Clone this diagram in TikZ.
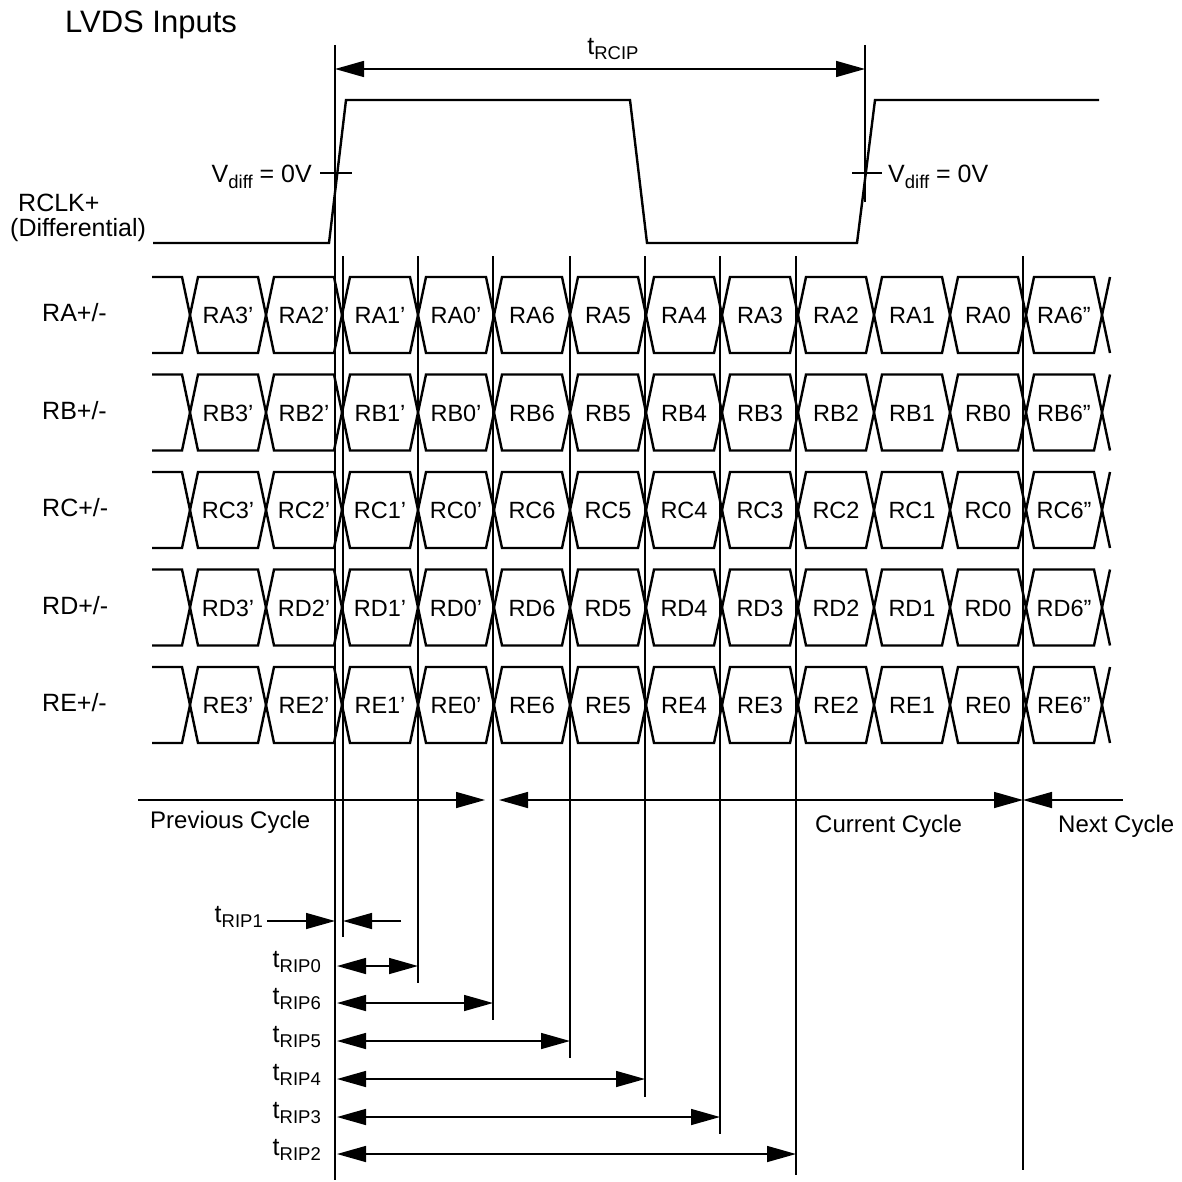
\documentclass[tikz,border=0pt]{standalone}
\usepackage{fontspec}
\setmainfont{Liberation Sans}
\usetikzlibrary{arrows.meta}
\newcommand\sublab[2]{#1\raisebox{-5.5pt}{\fontsize{18.5}{19}\selectfont #2}}
\begin{document}
\begin{tikzpicture}[x=1pt,y=-1pt,
  sig/.style={line width=2.4pt, line join=miter},
  mainline/.style={line width=2.7pt},
  guide/.style={line width=1.5pt},
  dim/.style={line width=1.5pt},
  tri/.tip={Triangle[length=29pt,width=16pt]},
  lab/.style={font=\fontsize{25}{30}\selectfont, inner sep=0pt},
  tlab/.style={font=\fontsize{25}{30}\selectfont, inner sep=0pt},
  cell/.style={font=\fontsize{23.5}{28}\selectfont, inner sep=0pt, anchor=base},
  cyc/.style={font=\fontsize{24}{28}\selectfont, inner sep=0pt}]
\useasboundingbox (0,0) rectangle (1182,1182);
% title
\node[font=\fontsize{31}{36}\selectfont, inner sep=0pt, anchor=west] (title) at (65,25) {LVDS Inputs};
% main reference line and second clock edge line
\coordinate (mtop) at (335,45);
\coordinate (mbot) at (335,1180);
\draw[mainline] (mtop) -- (mbot);
\coordinate (ntop) at (865,45);
\coordinate (nbot) at (865,202);
\draw[guide] (ntop) -- (nbot);
% tRCIP
\coordinate (rcipL) at (mtop|-0,69);
\coordinate (rcipR) at (ntop|-0,69);
\draw[dim,tri-tri] (rcipL) -- (rcipR);
\node[tlab] (trcip) at (613,49) {\sublab{t}{RCIP}};
% clock
\draw[sig] (153,243) -- (329,243) -- (346,100) -- (630,100) -- (647,243) -- (857,243) -- (875,100) -- (1099,100);
\coordinate (vt1a) at (320,173); \coordinate (vt1b) at (352,173);
\coordinate (vt2a) at (852,173); \coordinate (vt2b) at (882,173);
\draw[dim] (vt1a) -- (vt1b);
\draw[dim] (vt2a) -- (vt2b);
\node[lab, anchor=east] (vdiffL) at (312,177) {\sublab{V}{diff} = 0V};
\node[lab, anchor=west] (vdiffR) at (888,177) {\sublab{V}{diff} = 0V};
\node[lab, anchor=west] (rclk) at (18,203) {RCLK+};
\node[lab, anchor=west] (rdiff) at (10,230) {(Differential)};
% data rows
\foreach \L [count=\i from 0] in {A,B,C,D,E} {
  \pgfmathsetmacro\yc{315+97.5*\i}
  \node[lab, anchor=west] (row\L) at (42,\yc-2) {R\L+/-};
  \draw[sig] (152,\yc-38) foreach \k in {0,...,12} { -- ({182+76*\k},{\yc-38*(1-2*mod(\k,2))}) -- ({198+76*\k},{\yc+38*(1-2*mod(\k,2))}) };
  \draw[sig] (152,\yc+38) foreach \k in {0,...,12} { -- ({182+76*\k},{\yc+38*(1-2*mod(\k,2))}) -- ({198+76*\k},{\yc-38*(1-2*mod(\k,2))}) };
  \foreach \s [count=\j from 0] in {3',2',1',0',6,5,4,3,2,1,0,6''} {
    \node[cell] (c\L\j) at ({228+76*\j},\yc+8.5) {R\L\s};
  }
}
% guide lines
\foreach \gx/\gb in {343/937, 418/983, 493/1020, 570/1058, 645/1097, 720/1134, 796/1175, 1023/1170} {
  \coordinate (gt\gx) at (\gx,256);
  \coordinate (gb\gx) at (\gx,\gb);
  \draw[guide] (gt\gx) -- (gb\gx);
}
% cycle arrows
\coordinate (cycL) at (138,800);
\coordinate (cycR) at (1123,800);
\draw[dim,-tri] (cycL) -- (485,800);
\draw[dim,tri-tri] (499,800) -- (gt1023|-cycL);
\draw[dim,tri-] (gt1023|-cycL) -- (cycR);
\node[cyc, anchor=west] (prev) at (150,822) {Previous Cycle};
\node[cyc, anchor=west] (curr) at (815,826) {Current Cycle};
\node[cyc, anchor=west] (next) at (1058,826) {Next Cycle};
% tRIP measurements
\node[tlab, anchor=east] (trip1) at (263,917) {\sublab{t}{RIP1}};
\draw[dim,-tri] (trip1.east|-0,921) ++(4,0) -- (mtop|-0,921);
\draw[dim,-tri] (401,921) -- (gt343|-0,921);
\foreach \nm/\yy/\gx in {0/966/418, 6/1003/493, 5/1041/570, 4/1079/645, 3/1117/720, 2/1154/796} {
  \node[tlab, anchor=east] (trip\nm) at (321,\yy-4) {\sublab{t}{RIP\nm}};
  \draw[dim,tri-tri] (337,\yy) -- (gt\gx|-0,\yy);
}
\end{tikzpicture}
\end{document}
